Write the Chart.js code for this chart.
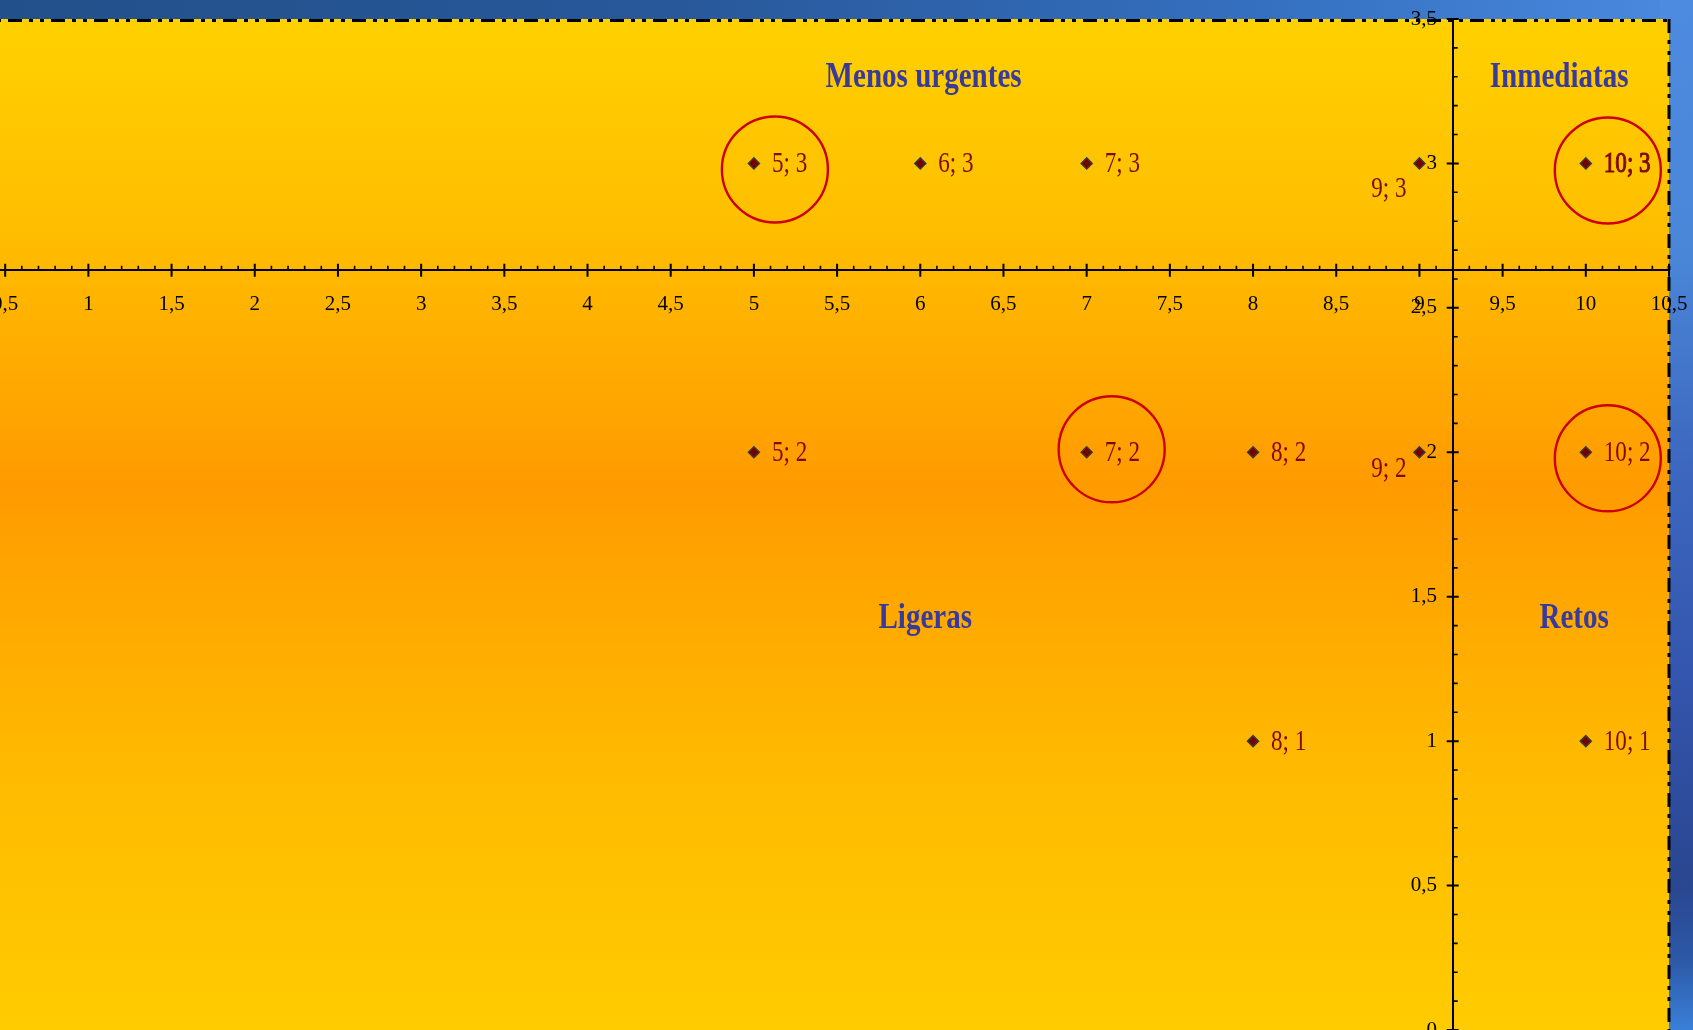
<!DOCTYPE html>
<html>
<head>
<meta charset="utf-8">
<script src="https://cdn.jsdelivr.net/npm/chart.js@4/dist/chart.umd.min.js"></script>
<style>
  html, body { margin: 0; padding: 0; }
  body {
    width: 1693px; height: 1030px; overflow: hidden; position: relative;
    background: linear-gradient(90deg, #22508a 0%, #28589a 40%, #3570c0 75%, #4a8ae0 100%);
  }
  #strip {
    position: absolute; left: 1660px; top: 0; width: 33px; height: 1030px;
    background: linear-gradient(180deg, #4d8be0 0%, #4a86d8 25%, #3d68c0 45%, #3456ae 65%, #2a4690 86%, #2c58a6 93%, #3a80d8 100%);
  }
  #wrap { position: absolute; left: -126px; top: -29px; width: 1843px; height: 1107px; }
</style>
</head>
<body>
<div id="strip"></div>
<div id="wrap"><canvas id="chart"></canvas></div>
<script>
// Points of the matrix (x; y)
const pointsX = [5, 6, 7, 9, 10, 5, 7, 8, 9, 10, 8, 10];
const pointsY = [3, 3, 3, 3, 3, 2, 2, 2, 2, 2, 1, 1];

// Points singled out with a red ring
const ringedX = [5, 10, 7, 10];
const ringedY = [3, 3, 2, 2];

// Axis ticks
const xTickValues = [0.5, 1, 1.5, 2, 2.5, 3, 3.5, 4, 4.5, 5, 5.5, 6, 6.5, 7, 7.5, 8, 8.5, 9, 9.5, 10, 10.5];
const xTickLabels = ['0,5', '1', '1,5', '2', '2,5', '3', '3,5', '4', '4,5', '5', '5,5', '6', '6,5', '7', '7,5', '8', '8,5', '9', '9,5', '10', '10,5'];
const yTickValues = [0, 0.5, 1, 1.5, 2, 2.5, 3, 3.5];
const yTickLabels = ['0', '0,5', '1', '1,5', '2', '2,5', '3', '3,5'];

// Quadrant names
const quadrantNames = ['Menos urgentes', 'Inmediatas', 'Ligeras', 'Retos'];

// Where the axes cross each other
const xAxisAtY = 2.63;
const yAxisAtX = 9.2;

// ---- styling ----
const quadrantAnchors = [ {x: 6.02, y: 3.266}, {x: 9.84, y: 3.266}, {x: 6.03, y: 1.391}, {x: 9.93, y: 1.391} ];
const ringOffsets = [[21, 6], [22, 7], [25, -3], [22, 6]];
const labelStyle = {
  '9;3': {align: 'right', dx: -13, dy: 26},
  '9;2': {align: 'right', dx: -13, dy: 17},
  '10;3': {bold: true}
};
const serif = "'Liberation Serif', 'Times New Roman', serif";
const labelColor = '#7e0a00';
const titleColor = '#383a9c';
const yLabelGap = '   '; // keeps the y tick labels clear of the axis line

const plotBackground = {
  id: 'plotBackground',
  beforeDraw(chart) {
    const {ctx, chartArea: a} = chart;
    const g = ctx.createLinearGradient(0, a.top, 0, a.bottom);
    g.addColorStop(0, '#ffd100');
    g.addColorStop(0.2, '#ffbf00');
    g.addColorStop(0.46, '#ff9b00');
    g.addColorStop(0.75, '#ffbb00');
    g.addColorStop(1, '#ffcc00');
    ctx.save();
    ctx.fillStyle = g;
    ctx.fillRect(a.left, a.top, a.right - a.left, a.bottom - a.top);
    // dash-dot-dot frame along the top and right edges
    ctx.strokeStyle = '#000';
    ctx.lineWidth = 3;
    ctx.setLineDash([14, 7, 4, 7, 4, 7]);
    ctx.beginPath();
    ctx.moveTo(a.left, a.top + 1.5);
    ctx.lineTo(a.right, a.top + 1.5);
    ctx.stroke();
    ctx.beginPath();
    ctx.moveTo(a.right, a.top);
    ctx.lineTo(a.right, a.bottom);
    ctx.stroke();
    ctx.restore();
  }
};

const axisTicks = {
  id: 'axisTicks',
  afterDatasetsDraw(chart) {
    const {ctx, scales: {x, y}} = chart;
    const ay = y.getPixelForValue(xAxisAtY);
    const ax = x.getPixelForValue(yAxisAtX);
    ctx.save();
    ctx.strokeStyle = '#000';
    ctx.beginPath();
    ctx.lineWidth = 2;
    for (let k = 0; k <= 105; k++) {
      const px = x.getPixelForValue(k / 10);
      if (k % 5 === 0) { ctx.moveTo(px, ay - 6.5); ctx.lineTo(px, ay + 6.5); }
    }
    for (let k = 0; k <= 35; k++) {
      const py = y.getPixelForValue(k / 10);
      if (k % 5 === 0) { ctx.moveTo(ax - 6, py); ctx.lineTo(ax + 6, py); }
    }
    ctx.stroke();
    ctx.beginPath();
    ctx.lineWidth = 1.6;
    for (let k = 0; k <= 105; k++) {
      const px = x.getPixelForValue(k / 10);
      if (k % 5 !== 0) { ctx.moveTo(px, ay - 4.5); ctx.lineTo(px, ay); }
    }
    for (let k = 0; k <= 35; k++) {
      const py = y.getPixelForValue(k / 10);
      if (k % 5 !== 0) { ctx.moveTo(ax, py); ctx.lineTo(ax + 5, py); }
    }
    ctx.stroke();
    ctx.restore();
  }
};

function condensedText(ctx, text, px, py, sx, align) {
  ctx.save();
  ctx.translate(px, py);
  ctx.scale(sx, 1);
  ctx.textAlign = align;
  ctx.fillText(text, 0, 0);
  ctx.restore();
}

const annotations = {
  id: 'annotations',
  afterDraw(chart) {
    const {ctx, scales: {x, y}} = chart;
    // quadrant names
    ctx.save();
    ctx.fillStyle = titleColor;
    ctx.font = 'bold 35px ' + serif;
    ctx.textBaseline = 'alphabetic';
    quadrantNames.forEach((name, i) => {
      const q = quadrantAnchors[i];
      condensedText(ctx, name, x.getPixelForValue(q.x), y.getPixelForValue(q.y), 0.83, 'center');
    });
    ctx.restore();

    // red rings
    ctx.save();
    ctx.strokeStyle = '#cc0000';
    ctx.lineWidth = 2.4;
    ringedX.forEach((vx, i) => {
      const cx = x.getPixelForValue(vx) + ringOffsets[i][0];
      const cy = y.getPixelForValue(ringedY[i]) + ringOffsets[i][1];
      ctx.beginPath();
      ctx.arc(cx, cy, 53, 0, Math.PI * 2);
      ctx.stroke();
    });
    ctx.restore();

    // point labels "x; y"
    const meta = chart.getDatasetMeta(0);
    ctx.save();
    ctx.font = '30px ' + serif;
    ctx.textBaseline = 'middle';
    ctx.fillStyle = labelColor;
    ctx.strokeStyle = labelColor;
    meta.data.forEach((el, i) => {
      const key = pointsX[i] + ';' + pointsY[i];
      const st = labelStyle[key] || {};
      const text = pointsX[i] + '; ' + pointsY[i];
      const align = st.align || 'left';
      const dx = st.dx !== undefined ? st.dx : 18;
      const dy = st.dy !== undefined ? st.dy : 1;
      ctx.save();
      ctx.translate(el.x + dx, el.y + dy);
      ctx.scale(0.77, 1);
      ctx.textAlign = align;
      ctx.fillText(text, 0, 0);
      if (st.bold) { ctx.lineWidth = 1.1; ctx.strokeText(text, 0, 0); }
      ctx.restore();
    });
    ctx.restore();
  }
};

const tickFont = {family: serif, size: 21};

new Chart(document.getElementById('chart'), {
  type: 'scatter',
  data: {
    datasets: [{
      data: pointsX.map((vx, i) => ({x: vx, y: pointsY[i]})),
      pointStyle: 'rectRot',
      pointRadius: 5.5,
      pointHoverRadius: 5.5,
      pointBorderWidth: 1.5,
      pointBorderColor: '#3a3a3a',
      pointBackgroundColor: '#7a0000'
    }]
  },
  options: {
    responsive: true,
    maintainAspectRatio: false,
    devicePixelRatio: 1,
    animation: false,
    events: [],
    layout: {padding: 48},
    plugins: {legend: {display: false}, tooltip: {enabled: false}},
    scales: {
      x: {
        type: 'linear', min: 0, max: 10.5,
        position: {y: xAxisAtY},
        afterBuildTicks: s => { s.ticks = xTickValues.map(v => ({value: v})); },
        ticks: {
          callback: (v, i) => xTickLabels[i],
          font: tickFont, color: '#000', padding: 22,
          maxRotation: 0, autoSkip: false
        },
        grid: {display: false, drawTicks: false},
        border: {display: true, color: '#000', width: 2}
      },
      y: {
        type: 'linear', min: 0, max: 3.5,
        position: {x: yAxisAtX},
        afterBuildTicks: s => { s.ticks = yTickValues.map(v => ({value: v})); },
        ticks: {
          callback: (v, i) => yTickLabels[i] + yLabelGap,
          font: tickFont, color: '#000', padding: 17,
          autoSkip: false
        },
        grid: {display: false, drawTicks: false},
        border: {display: true, color: '#000', width: 2}
      }
    }
  },
  plugins: [plotBackground, axisTicks, annotations]
});
</script>
</body>
</html>
